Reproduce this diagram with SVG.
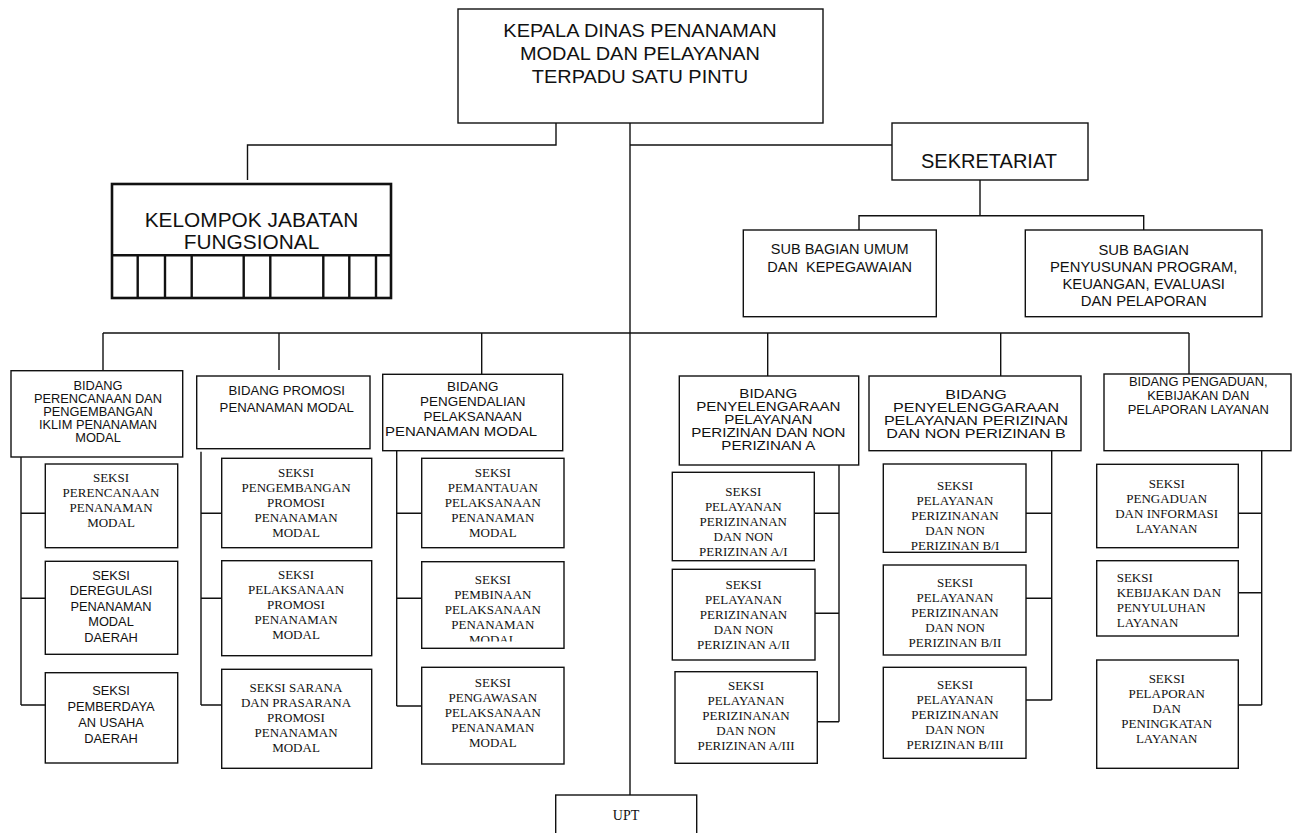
<svg xmlns="http://www.w3.org/2000/svg" width="1293" height="833" viewBox="0 0 1293 833">
<style>
.bx{fill:#fff;stroke:#111;stroke-width:1.4}
.tk{fill:#fff;stroke:#111;stroke-width:2.6}
.tl{stroke:#111;stroke-width:2.4;fill:none}
.ln{stroke:#111;stroke-width:1.4;fill:none}
.a{font-family:"Liberation Sans",Arial,sans-serif;text-anchor:middle;fill:#111}
.t{font-family:"Liberation Serif","Times New Roman",serif;font-size:13px;text-anchor:middle;fill:#111}
.bd{font-size:12px}
.sa{font-size:12px}
</style>
<defs>
<clipPath id="c3b"><rect x="421" y="561" width="144" height="80.5"/></clipPath>
</defs>
<rect width="1293" height="833" fill="#fff"/>
<g id="connectors">
<path class="ln" d="M556,123V145H247.5V180"/>
<path class="ln" d="M630,123V795"/>
<path class="ln" d="M630,145H892"/>
<path class="ln" d="M980,180V215.7M859,230V215.7H1143.7V230"/>
<path class="ln" d="M103,333H1189"/>
<path class="ln" d="M103,333V371M279,333V370M481.7,333V374M767.7,333V376M1000.7,333V376M1189,333V374"/>
<path class="ln" d="M21,457V705M21,513.3H45.3M21,598.3H45.3M21,705H45.3"/>
<path class="ln" d="M201,451.7V705M201,513.3H221.7M201,598.3H221.7M201,705H221.7"/>
<path class="ln" d="M396.7,450.7V706M396.7,513.3H421.7M396.7,598.3H421.7M396.7,706H421.7"/>
<path class="ln" d="M839,465V721.7M814.3,513.3H839M815,613.3H839M817.3,721.7H839"/>
<path class="ln" d="M1051.7,450.7V700M1026,513.3H1051.7M1026,598.3H1051.7M1026,700H1051.7"/>
<path class="ln" d="M1261.7,450.7V705M1238.3,513.3H1261.7M1238.3,592.7H1261.7M1238.3,705H1261.7"/>
</g>
<g id="kepala">
<rect class="bx" x="458" y="9" width="365" height="114"/>
<text class="a" font-size="17.5" transform="translate(640 0) scale(1.14 1)"><tspan x="0" y="37">KEPALA DINAS PENANAMAN</tspan><tspan x="0" y="60">MODAL DAN PELAYANAN</tspan><tspan x="0" y="83">TERPADU SATU PINTU</tspan></text>
</g>
<g id="kelompok">
<rect class="tk" x="112" y="184" width="279" height="114"/>
<path class="tl" d="M112,255.3H391M137.7,255.3V298M165,255.3V298M191.7,255.3V298M243.7,255.3V298M270.3,255.3V298M323.3,255.3V298M349.3,255.3V298M376,255.3V298"/>
<text class="a" font-size="19.5" transform="translate(251.5 0) scale(1.07 1)"><tspan x="0" y="227">KELOMPOK JABATAN</tspan><tspan x="0" y="249">FUNGSIONAL</tspan></text>
</g>
<g id="sekretariat">
<rect class="bx" x="892" y="123" width="196" height="57"/>
<text class="a" font-size="20" x="989" y="168">SEKRETARIAT</text>
</g>
<g id="subumum">
<rect class="bx" x="743.3" y="230" width="193" height="86.7"/>
<text class="a" font-size="14.5" style="white-space:pre"><tspan x="839.7" y="254">SUB BAGIAN UMUM</tspan><tspan x="839.7" y="271.5">DAN  KEPEGAWAIAN</tspan></text>
</g>
<g id="subprogram">
<rect class="bx" x="1025.3" y="230" width="236.7" height="86.7"/>
<text class="a" font-size="14.8"><tspan x="1143.7" y="255">SUB BAGIAN</tspan><tspan x="1143.7" y="272">PENYUSUNAN PROGRAM,</tspan><tspan x="1143.7" y="289">KEUANGAN, EVALUASI</tspan><tspan x="1143.7" y="306">DAN PELAPORAN</tspan></text>
</g>
<g id="bidang1">
<rect class="bx" x="11" y="370.7" width="171.7" height="86.3"/>
<text class="a bd" transform="translate(98 0) scale(1.07 1)"><tspan x="0" y="390">BIDANG</tspan><tspan x="0" y="403">PERENCANAAN DAN</tspan><tspan x="0" y="416">PENGEMBANGAN</tspan><tspan x="0" y="429">IKLIM PENANAMAN</tspan><tspan x="0" y="442">MODAL</tspan></text>
</g>
<g id="seksi1a">
<rect class="bx" x="45.3" y="464" width="132.4" height="83.7"/>
<text class="t"><tspan x="111" y="481.7">SEKSI</tspan><tspan x="111" y="496.7">PERENCANAAN</tspan><tspan x="111" y="511.7">PENANAMAN</tspan><tspan x="111" y="526.7">MODAL</tspan></text>
</g>
<g id="seksi1b">
<rect class="bx" x="45.3" y="561.3" width="132.4" height="93"/>
<text class="a sa" transform="translate(111 0) scale(1.07 1)"><tspan x="0" y="580">SEKSI</tspan><tspan x="0" y="595.5">DEREGULASI</tspan><tspan x="0" y="611">PENANAMAN</tspan><tspan x="0" y="626.5">MODAL</tspan><tspan x="0" y="642">DAERAH</tspan></text>
</g>
<g id="seksi1c">
<rect class="bx" x="45.3" y="672.7" width="132.4" height="90.3"/>
<text class="a sa" transform="translate(111 0) scale(1.07 1)"><tspan x="0" y="695">SEKSI</tspan><tspan x="0" y="711">PEMBERDAYA</tspan><tspan x="0" y="727">AN USAHA</tspan><tspan x="0" y="743">DAERAH</tspan></text>
</g>
<g id="bidang2">
<rect class="bx" x="196.7" y="376" width="173.3" height="72.7"/>
<text class="a bd" transform="translate(286.7 0) scale(1.1 1)"><tspan x="0" y="395">BIDANG PROMOSI</tspan><tspan x="0" y="412.5">PENANAMAN MODAL</tspan></text>
</g>
<g id="seksi2a">
<rect class="bx" x="221.7" y="458.3" width="150" height="89.4"/>
<text class="t"><tspan x="296" y="476.5">SEKSI</tspan><tspan x="296" y="491.5">PENGEMBANGAN</tspan><tspan x="296" y="506.5">PROMOSI</tspan><tspan x="296" y="521.5">PENANAMAN</tspan><tspan x="296" y="536.5">MODAL</tspan></text>
</g>
<g id="seksi2b">
<rect class="bx" x="221.7" y="560.7" width="150" height="95"/>
<text class="t"><tspan x="296" y="578.5">SEKSI</tspan><tspan x="296" y="593.5">PELAKSANAAN</tspan><tspan x="296" y="608.5">PROMOSI</tspan><tspan x="296" y="623.5">PENANAMAN</tspan><tspan x="296" y="638.5">MODAL</tspan></text>
</g>
<g id="seksi2c">
<rect class="bx" x="221.7" y="669.3" width="150" height="99"/>
<text class="t"><tspan x="296" y="691.5">SEKSI SARANA</tspan><tspan x="296" y="706.5">DAN PRASARANA</tspan><tspan x="296" y="721.5">PROMOSI</tspan><tspan x="296" y="736.5">PENANAMAN</tspan><tspan x="296" y="751.5">MODAL</tspan></text>
</g>
<g id="bidang3">
<rect class="bx" x="382.7" y="374.3" width="180" height="76.4"/>
<text class="a bd" transform="translate(472.7 0) scale(1.12 1)"><tspan x="0" y="391">BIDANG</tspan><tspan x="0" y="406">PENGENDALIAN</tspan><tspan x="0" y="421">PELAKSANAAN</tspan></text>
<text class="a bd" x="461" y="436" textLength="152" lengthAdjust="spacingAndGlyphs">PENANAMAN MODAL</text>
</g>
<g id="seksi3a">
<rect class="bx" x="421.7" y="458.3" width="142.3" height="89.4"/>
<text class="t"><tspan x="492.8" y="476.5">SEKSI</tspan><tspan x="492.8" y="491.5">PEMANTAUAN</tspan><tspan x="492.8" y="506.5">PELAKSANAAN</tspan><tspan x="492.8" y="521.5">PENANAMAN</tspan><tspan x="492.8" y="536.5">MODAL</tspan></text>
</g>
<g id="seksi3b">
<rect class="bx" x="421.7" y="561.7" width="142.3" height="86.6"/>
<text class="t" clip-path="url(#c3b)"><tspan x="492.8" y="584">SEKSI</tspan><tspan x="492.8" y="599">PEMBINAAN</tspan><tspan x="492.8" y="614">PELAKSANAAN</tspan><tspan x="492.8" y="629">PENANAMAN</tspan><tspan x="492.8" y="644">MODAL</tspan></text>
</g>
<g id="seksi3c">
<rect class="bx" x="421.7" y="667.3" width="142.3" height="96.7"/>
<text class="t"><tspan x="492.8" y="686.5">SEKSI</tspan><tspan x="492.8" y="701.5">PENGAWASAN</tspan><tspan x="492.8" y="716.5">PELAKSANAAN</tspan><tspan x="492.8" y="731.5">PENANAMAN</tspan><tspan x="492.8" y="746.5">MODAL</tspan></text>
</g>
<g id="bidang4">
<rect class="bx" x="679.3" y="376" width="179.4" height="89"/>
<text class="a bd" transform="translate(768.3 0) scale(1.26 1)"><tspan x="0" y="398">BIDANG</tspan><tspan x="0" y="411">PENYELENGARAAN</tspan><tspan x="0" y="424">PELAYANAN</tspan><tspan x="0" y="437">PERIZINAN DAN NON</tspan><tspan x="0" y="450">PERIZINAN A</tspan></text>
</g>
<g id="seksi4a">
<rect class="bx" x="672.3" y="472.3" width="142" height="88.4"/>
<text class="t"><tspan x="743.3" y="496">SEKSI</tspan><tspan x="743.3" y="511">PELAYANAN</tspan><tspan x="743.3" y="526">PERIZINANAN</tspan><tspan x="743.3" y="541">DAN NON</tspan><tspan x="743.3" y="556">PERIZINAN A/I</tspan></text>
</g>
<g id="seksi4b">
<rect class="bx" x="672.3" y="569.3" width="142.7" height="90.7"/>
<text class="t"><tspan x="743.5" y="589">SEKSI</tspan><tspan x="743.5" y="604">PELAYANAN</tspan><tspan x="743.5" y="619">PERIZINANAN</tspan><tspan x="743.5" y="634">DAN NON</tspan><tspan x="743.5" y="649">PERIZINAN A/II</tspan></text>
</g>
<g id="seksi4c">
<rect class="bx" x="675" y="671.7" width="142.3" height="91.6"/>
<text class="t"><tspan x="746" y="690">SEKSI</tspan><tspan x="746" y="705">PELAYANAN</tspan><tspan x="746" y="720">PERIZINANAN</tspan><tspan x="746" y="735">DAN NON</tspan><tspan x="746" y="750">PERIZINAN A/III</tspan></text>
</g>
<g id="bidang5">
<rect class="bx" x="869" y="376" width="212" height="74.7"/>
<text class="a bd" transform="translate(976 0) scale(1.34 1)"><tspan x="0" y="399">BIDANG</tspan><tspan x="0" y="412">PENYELENGGARAAN</tspan><tspan x="0" y="425">PELAYANAN PERIZINAN</tspan><tspan x="0" y="438">DAN NON PERIZINAN B</tspan></text>
</g>
<g id="seksi5a">
<rect class="bx" x="883.3" y="464" width="142.7" height="88.3"/>
<text class="t"><tspan x="955" y="490">SEKSI</tspan><tspan x="955" y="505">PELAYANAN</tspan><tspan x="955" y="520">PERIZINANAN</tspan><tspan x="955" y="535">DAN NON</tspan><tspan x="955" y="550">PERIZINAN B/I</tspan></text>
</g>
<g id="seksi5b">
<rect class="bx" x="883.3" y="565" width="142.7" height="90"/>
<text class="t"><tspan x="955" y="587">SEKSI</tspan><tspan x="955" y="602">PELAYANAN</tspan><tspan x="955" y="617">PERIZINANAN</tspan><tspan x="955" y="632">DAN NON</tspan><tspan x="955" y="647">PERIZINAN B/II</tspan></text>
</g>
<g id="seksi5c">
<rect class="bx" x="883.3" y="667.3" width="142.7" height="91"/>
<text class="t"><tspan x="955" y="689">SEKSI</tspan><tspan x="955" y="704">PELAYANAN</tspan><tspan x="955" y="719">PERIZINANAN</tspan><tspan x="955" y="734">DAN NON</tspan><tspan x="955" y="749">PERIZINAN B/III</tspan></text>
</g>
<g id="bidang6">
<rect class="bx" x="1104" y="374" width="187" height="76.7"/>
<text class="a bd" transform="translate(1198.3 0) scale(1.08 1)"><tspan x="0" y="385.7">BIDANG PENGADUAN,</tspan><tspan x="0" y="400">KEBIJAKAN DAN</tspan><tspan x="0" y="414.3">PELAPORAN LAYANAN</tspan></text>
</g>
<g id="seksi6a">
<rect class="bx" x="1096.7" y="464.3" width="141.6" height="83.4"/>
<text class="t"><tspan x="1166.7" y="488">SEKSI</tspan><tspan x="1166.7" y="503">PENGADUAN</tspan><tspan x="1166.7" y="518">DAN INFORMASI</tspan><tspan x="1166.7" y="533">LAYANAN</tspan></text>
</g>
<g id="seksi6b">
<rect class="bx" x="1096.7" y="560.7" width="141.6" height="75.3"/>
<text class="t" style="text-anchor:start"><tspan x="1116.7" y="582">SEKSI</tspan><tspan x="1116.7" y="597">KEBIJAKAN DAN</tspan><tspan x="1116.7" y="612">PENYULUHAN</tspan><tspan x="1116.7" y="627">LAYANAN</tspan></text>
</g>
<g id="seksi6c">
<rect class="bx" x="1096.7" y="660" width="141.6" height="108.3"/>
<text class="t"><tspan x="1166.7" y="683">SEKSI</tspan><tspan x="1166.7" y="698">PELAPORAN</tspan><tspan x="1166.7" y="713">DAN</tspan><tspan x="1166.7" y="728">PENINGKATAN</tspan><tspan x="1166.7" y="743">LAYANAN</tspan></text>
</g>
<g id="upt">
<rect class="bx" x="555.7" y="795" width="141" height="50"/>
<text class="t" style="font-size:14px" x="626" y="820">UPT</text>
</g>
</svg>
